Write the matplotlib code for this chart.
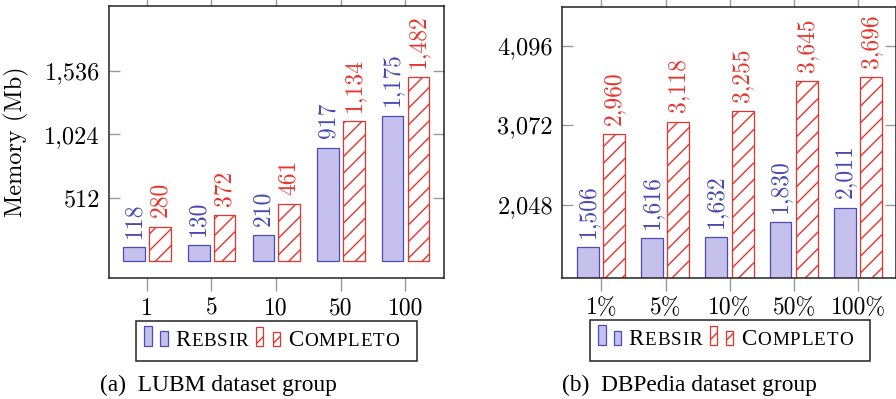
import matplotlib
matplotlib.use("Agg")
import matplotlib.pyplot as plt
from matplotlib.patches import Rectangle

# Memory usage (Mb) per dataset group
lubm_labels = ["1", "5", "10", "50", "100"]
lubm_rebsir = [118, 130, 210, 917, 1175]
lubm_completo = [280, 372, 461, 1134, 1482]
lubm_yticks = [512, 1024, 1536]

dbp_labels = ["1%", "5%", "10%", "50%", "100%"]
dbp_rebsir = [1506, 1616, 1632, 1830, 2011]
dbp_completo = [2960, 3118, 3255, 3645, 3696]
dbp_yticks = [2048, 3072, 4096]

W, H = 896, 399
BLUE_FILL = "#c5c1ec"
BLUE_EDGE = "#4a4ab8"
BLUE_TEXT = "#4848b4"
RED = "#e8332b"
TICK_GRAY = "#9a9a9a"
NUM_FONT = "cmr10"
CAP_FONT = "Liberation Serif"

plt.rcParams["hatch.linewidth"] = 1.0

fig = plt.figure(figsize=(W / 100, H / 100), dpi=100)


def fx(px):
    return px / W


def fy(py):
    return 1 - py / H


def px_axes(left, top, right, bottom):
    return fig.add_axes([fx(left), fy(bottom), (right - left) / W, (bottom - top) / H])


def fmt(v):
    return f"{v:,}"


def draw_group(ax, labels, reb, comp, yticks, ylim, xlim, off_b, off_r, width):
    x = list(range(len(labels)))
    xb = [i + off_b for i in x]
    xr = [i + off_r for i in x]
    ax.bar(xb, reb, width=width, color=BLUE_FILL, edgecolor=BLUE_EDGE, linewidth=0.9, zorder=2)
    ax.bar(xr, comp, width=width, color="white", edgecolor=RED, hatch="//", linewidth=0.9, zorder=2)
    for xi, v in zip(xb, reb):
        ax.annotate(fmt(v), (xi, v), xytext=(0, 6.5), textcoords="offset points",
                    rotation=90, ha="center", va="bottom", color=BLUE_TEXT,
                    fontsize=17, family=NUM_FONT)
    for xi, v in zip(xr, comp):
        ax.annotate(fmt(v), (xi, v), xytext=(0, 6.5), textcoords="offset points",
                    rotation=90, ha="center", va="bottom", color=RED,
                    fontsize=17, family=NUM_FONT, annotation_clip=False)
    ax.set_xlim(*xlim)
    ax.set_ylim(*ylim)
    ax.set_xticks(x)
    ax.set_xticklabels(labels, family=NUM_FONT, fontsize=17)
    ax.set_yticks(yticks)
    ax.set_yticklabels([fmt(v) for v in yticks], family=NUM_FONT, fontsize=17.5)
    ax.tick_params(axis="x", direction="out", length=9, width=1, color=TICK_GRAY,
                   top=True, bottom=True, pad=5)
    ax.tick_params(axis="y", direction="in", length=8, width=1, color=TICK_GRAY,
                   left=True, right=True, pad=6.5)
    for s in ax.spines.values():
        s.set_linewidth(1.1)
        s.set_color("#222222")


ax1 = px_axes(109, 6, 444, 278)
draw_group(ax1, lubm_labels, lubm_rebsir, lubm_completo, lubm_yticks,
           (-135, 2058), (-0.584, 4.60), -0.195, 0.205, 0.335)
ax1.set_ylabel("Memory (Mb)", family=NUM_FONT, fontsize=17.5, va="center")
ax1.yaxis.set_label_coords((16 - 109) / 335, 0.5)

ax2 = px_axes(562, 6.5, 895.5, 278)
draw_group(ax2, dbp_labels, dbp_rebsir, dbp_completo, dbp_yticks,
           (1104, 4598), (-0.612, 4.58), -0.21, 0.20, 0.34)

renderer = fig.canvas.get_renderer()


def small_caps(x_px, base_px, word, size, ratio=0.83, gap=0.9):
    """Draw a word in small capitals, letter by letter, from x_px on baseline base_px."""
    x = x_px
    for i, ch in enumerate(word):
        s = size if i == 0 else size * ratio
        t = fig.text(fx(x), fy(base_px), ch.upper(), family=CAP_FONT, fontsize=s,
                     ha="left", va="baseline")
        x = t.get_window_extent(renderer).x1 + gap
    return x


def legend_box(left, top):
    box_w, box_h = 280.5, 40.5
    fig.add_artist(Rectangle((fx(left), fy(top + box_h)), box_w / W, box_h / H,
                             transform=fig.transFigure, facecolor="white",
                             edgecolor="#222222", linewidth=1.1))
    base = top + 25
    # Rebsir entry: two small bars
    for dx, h in [(8.3, 20), (24, 14.5)]:
        fig.add_artist(Rectangle((fx(left + dx), fy(base)), 7.8 / W, h / H,
                                 transform=fig.transFigure, facecolor=BLUE_FILL,
                                 edgecolor=BLUE_EDGE, linewidth=0.9))
    small_caps(left + 39, base, "Rebsir", 16.5)
    # Completo entry: two small hatched bars
    for dx, h in [(120, 19), (136.6, 14)]:
        fig.add_artist(Rectangle((fx(left + dx), fy(base)), 7 / W, h / H,
                                 transform=fig.transFigure, facecolor="white",
                                 edgecolor=RED, hatch="//", linewidth=0.9))
    small_caps(left + 152, base, "Completo", 16.5)


legend_box(136, 320.5)
legend_box(589.5, 320)

fig.text(fx(100), fy(391.5), "(a)  LUBM dataset group", family=CAP_FONT,
         fontsize=16.8, ha="left", va="baseline")
fig.text(fx(561.5), fy(391.5), "(b)  DBPedia dataset group", family=CAP_FONT,
         fontsize=16.8, ha="left", va="baseline")

fig.savefig("out.png", dpi=100)
